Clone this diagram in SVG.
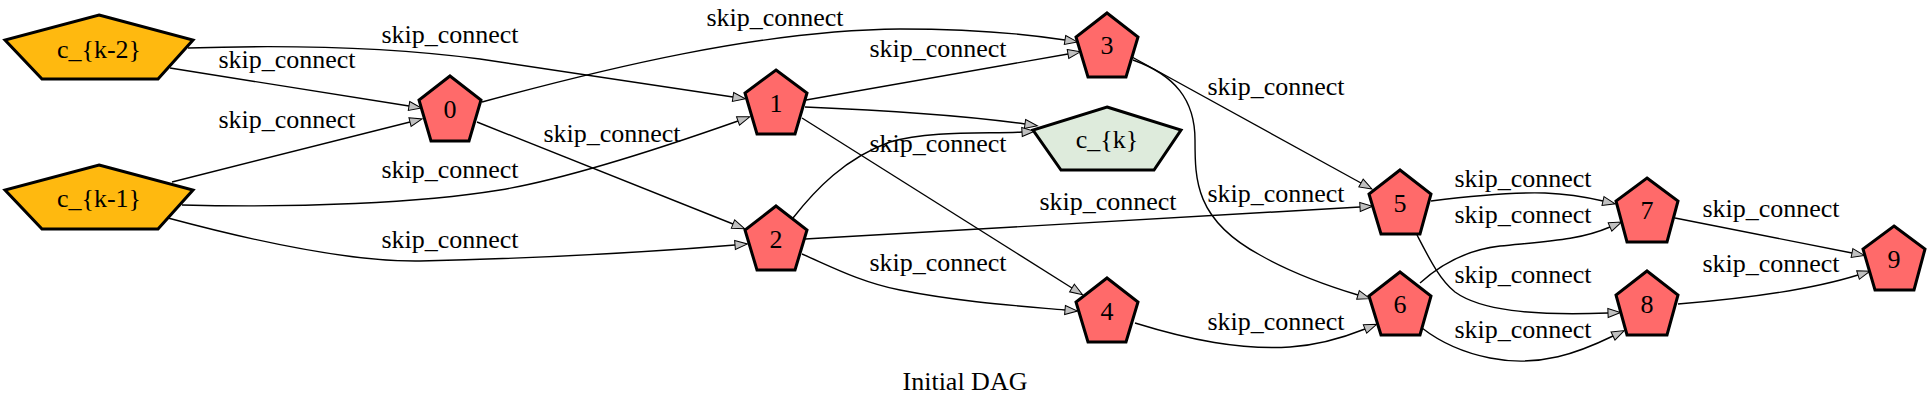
<svg xmlns="http://www.w3.org/2000/svg" width="1930" height="408" viewBox="0 0 1930 408">
<style>
text{font-family:"Liberation Serif","Times New Roman",serif;font-size:26px;fill:#000;text-anchor:middle}
.n{stroke:#000;stroke-width:3;stroke-linejoin:miter}
.r{fill:#ff6a6a}
.o{fill:#ffb90f}
.g{fill:#deebdc}
.e path{fill:none;stroke:#000;stroke-width:1.4;marker-end:url(#arr)}
</style>
<defs>
<marker id="arr" markerUnits="userSpaceOnUse" markerWidth="16" markerHeight="12" viewBox="-1 -6 16 12" refX="0" refY="0" orient="auto" overflow="visible">
<path d="M0,-4.5 L12.5,0 L0,4.5 z" fill="#c0c0c0" stroke="#000" stroke-width="1"/>
</marker>
</defs>
<rect width="1930" height="408" fill="#fff"/>
<g id="connectors" class="e">
<path d="M170,68 L409,106"/>
<path d="M172,182 L410,122"/>
<path d="M188,48 C280,45 380,46 480,59 L733,97"/>
<path d="M182,205 C300,208 420,203 500,190 C560,180 650,152 738,121"/>
<path d="M168,218 C250,240 350,262 420,261 C550,258 650,252 735,245"/>
<path d="M477,122 L733,224"/>
<path d="M482,102 C600,70 760,30 900,29 C970,29 1020,33 1065,40"/>
<path d="M806,100 L1068,54"/>
<path d="M805,107 C880,110 960,115 1025,124"/>
<path d="M793,218 C815,190 845,158 890,142 C930,130 990,134 1022,132"/>
<path d="M802,118 L1072,288"/>
<path d="M805,239 L1360,207"/>
<path d="M802,254 C830,266 860,282 900,290 C960,302 1020,306 1065,310"/>
<path d="M1132,57 L1361,183"/>
<path d="M1133,60 C1175,75 1195,100 1195,140 C1195,180 1195,220 1260,255 C1290,272 1325,285 1358,295"/>
<path d="M1135,323 C1190,340 1240,350 1290,347 C1320,345 1345,337 1365,329"/>
<path d="M1431,201 C1470,196 1510,192 1545,193 C1570,194 1590,198 1603,201"/>
<path d="M1417,235 C1430,260 1440,280 1455,292 C1480,310 1530,316 1608,313"/>
<path d="M1420,283 C1440,265 1465,250 1500,246 C1550,241 1580,240 1610,227"/>
<path d="M1422,328 C1440,342 1460,352 1490,358 C1540,368 1580,352 1613,336"/>
<path d="M1675,218 L1852,253"/>
<path d="M1678,304 C1740,299 1810,290 1858,275"/>
</g>
<g id="edge-labels">
<text x="287" y="68">skip_connect</text>
<text x="287" y="128">skip_connect</text>
<text x="450" y="43">skip_connect</text>
<text x="450" y="178">skip_connect</text>
<text x="450" y="248">skip_connect</text>
<text x="612" y="142">skip_connect</text>
<text x="775" y="26">skip_connect</text>
<text x="938" y="57">skip_connect</text>
<text x="938" y="152">skip_connect</text>
<text x="938" y="271">skip_connect</text>
<text x="1108" y="210">skip_connect</text>
<text x="1276" y="95">skip_connect</text>
<text x="1276" y="202">skip_connect</text>
<text x="1276" y="330">skip_connect</text>
<text x="1523" y="187">skip_connect</text>
<text x="1523" y="223">skip_connect</text>
<text x="1523" y="283">skip_connect</text>
<text x="1523" y="338">skip_connect</text>
<text x="1771" y="217">skip_connect</text>
<text x="1771" y="272">skip_connect</text>
</g>
<g id="node-ck2"><polygon class="n o" points="99,15 193,40 158,79 42,79 5,40"/><text x="99" y="58">c_{k-2}</text></g>
<g id="node-ck1"><polygon class="n o" points="99,165 193,190 158,229 42,229 5,190"/><text x="99" y="207">c_{k-1}</text></g>
<g id="node-0"><polygon class="n r" points="450,76 481,100 469,141 431,141 419,100"/><text x="450" y="118">0</text></g>
<g id="node-1"><polygon class="n r" points="776,70 807,93 795,134 757,134 745,93"/><text x="776" y="112">1</text></g>
<g id="node-2"><polygon class="n r" points="776,206 807,230 795,270 757,270 745,230"/><text x="776" y="248">2</text></g>
<g id="node-3"><polygon class="n r" points="1107,13 1138,37 1126,77 1088,77 1076,37"/><text x="1107" y="54">3</text></g>
<g id="node-ck"><polygon class="n g" points="1107,107 1181,130 1154,170 1061,170 1033,130"/><text x="1107" y="148">c_{k}</text></g>
<g id="node-4"><polygon class="n r" points="1107,278 1138,302 1126,342 1088,342 1076,302"/><text x="1107" y="320">4</text></g>
<g id="node-5"><polygon class="n r" points="1400,170 1431,194 1420,234 1381,234 1369,194"/><text x="1400" y="212">5</text></g>
<g id="node-6"><polygon class="n r" points="1400,272 1431,296 1420,335 1381,335 1369,296"/><text x="1400" y="313">6</text></g>
<g id="node-7"><polygon class="n r" points="1647,178 1678,201 1667,242 1627,242 1616,201"/><text x="1647" y="219">7</text></g>
<g id="node-8"><polygon class="n r" points="1647,271 1678,295 1667,335 1627,335 1616,295"/><text x="1647" y="313">8</text></g>
<g id="node-9"><polygon class="n r" points="1894,226 1925,249 1914,290 1875,290 1863,249"/><text x="1894" y="268">9</text></g>
<text id="title" x="965" y="390">Initial DAG</text>
</svg>
